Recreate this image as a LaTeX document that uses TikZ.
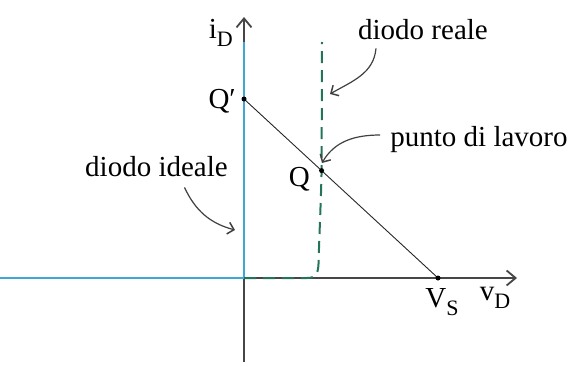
\documentclass[tikz,border=0pt]{standalone}
\usepackage{fontspec}
\setmainfont{Liberation Serif}
\usepackage{xcolor}
\definecolor{dgaxis}{RGB}{70,70,70}
\definecolor{dgblue}{RGB}{62,168,212}
\definecolor{dggreen}{RGB}{36,116,92}
\usepackage{tikz}
\usetikzlibrary{arrows.meta, positioning, calc}
\newcommand{\pedice}[1]{\raisebox{-0.28em}{\fontsize{22}{22}\selectfont #1}}

\begin{document}
\begin{tikzpicture}[
  x=1pt, y=-1pt,
  every node/.style={font=\fontsize{29}{33}\selectfont, inner sep=0pt},
  axis/.style={draw=dgaxis, line width=1.2pt,
    -{Straight Barb[length=9pt,width=15pt,line width=1.8pt]}},
  ideal/.style={draw=dgblue, line width=2.6pt},
  real/.style={draw=dggreen, line width=2pt, dash pattern=on 12pt off 7pt},
  load/.style={draw=black!85, line width=0.9pt},
  note/.style={draw=black!75, line width=1.2pt,
    -{Straight Barb[length=6pt,width=12pt,line width=1.5pt]}},
  dot/.style={circle, fill=black, inner sep=0pt, minimum size=5pt}
]
\useasboundingbox (0,0) rectangle (579,367);

% --- Axes ---
\coordinate (origin) at (244,278);
\coordinate (xstart) at (0,278);
\coordinate (xend) at (517,278);
\coordinate (ystart) at (244,362);
\coordinate (yend) at (244,17);
\draw[axis] (xstart) -- (xend);
\draw[axis] (ystart) -- (yend);

\node[anchor=base east] (iD) at (233,38) {i\pedice{D}};
\node[anchor=base] (vD) at (495,300) {v\pedice{D}};

% --- Points of the load line ---
\coordinate (Qp) at (244,99);
\coordinate (VS) at (438,278);
\coordinate (Q) at ($(Qp)!0.4!(VS)$);

% --- Ideal diode ---
\coordinate (idealtop) at (244,42);
\draw[ideal] (xstart) -- (origin) -- (idealtop);

% --- Real diode ---
\coordinate (realtop) at (322,42);
\draw[real] (origin) -- (307,278) .. controls (315,278) and (318,275) .. (318.5,264)
  .. controls (319.5,230) and (321,200) .. (Q) -- (realtop);

% --- Load line ---
\draw[load] (Qp) -- (VS);
\node[dot] (Qpdot) at (Qp) {};
\node[dot] (Qdot) at (Q) {};
\node[dot] (VSdot) at (VS) {};

\node[anchor=base east] (Qplabel) at (236,108) {Q′};
\node[anchor=base east] (Qlabel) at (310,186) {Q};
\node[anchor=base] (VSlabel) at (442,307) {V\pedice{S}};

% --- Notes ---
\node (reale) at (423,30) {diodo reale};
\node (punto) at (479,140) {punto di lavoro};
\node (ideale) at (156.5,167) {diodo ideale};

\coordinate (realetip) at (330,94);
\coordinate (puntotip) at (322,163);
\coordinate (idealetip) at (235,230);
\draw[note] ([xshift=18pt,yshift=-8pt]reale.south west) to[out=-95,in=30] (realetip);
\draw[note] ([xshift=-10pt,yshift=5pt]punto.west) to[out=180,in=60] (puntotip);
\draw[note] ([xshift=28pt,yshift=-10pt]ideale.south) to[out=-65,in=165] (idealetip);

\end{tikzpicture}
\end{document}
